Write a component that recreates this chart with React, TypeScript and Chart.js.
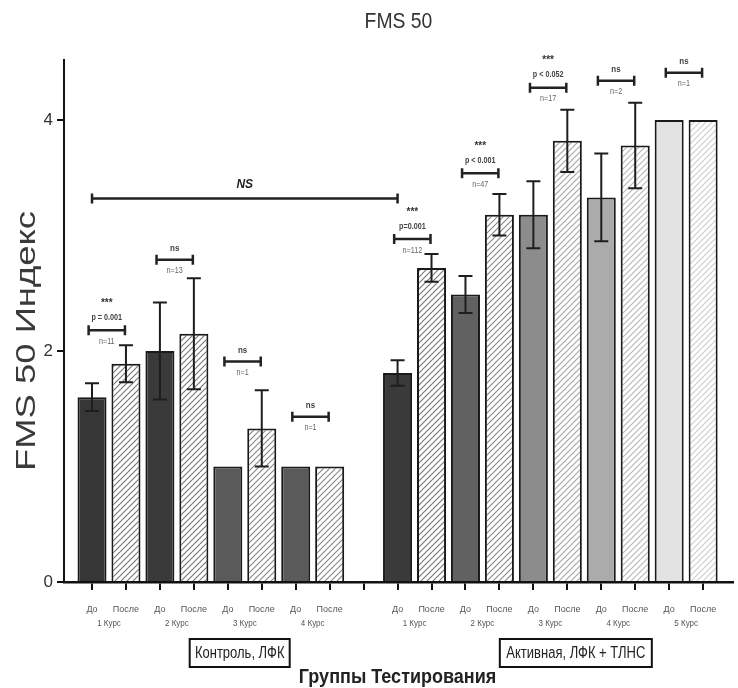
import { useEffect, useRef } from 'react';
import { Chart, registerables } from 'chart.js';

Chart.register(...registerables);

// ---- data ----
const controlCourses = ['1 Курс', '2 Курс', '3 Курс', '4 Курс'];
const activeCourses = ['1 Курс', '2 Курс', '3 Курс', '4 Курс', '5 Курс'];
const beforeLabel = 'До';
const afterLabel = 'После';

const controlBefore = [1.6, 2.0, 1.0, 1.0];
const controlAfter = [1.89, 2.15, 1.33, 1.0];
const controlBeforeErr = [0.12, 0.42, 0, 0];
const controlAfterErr = [0.16, 0.48, 0.33, 0];

const activeBefore = [1.81, 2.49, 3.18, 3.33, 4.0];
const activeAfter = [2.72, 3.18, 3.82, 3.78, 4.0];
const activeBeforeErr = [0.11, 0.16, 0.29, 0.38, 0];
const activeAfterErr = [0.12, 0.18, 0.27, 0.37, 0];

const controlColors = ['#363636', '#3a3a3a', '#5a5a5a', '#5a5a5a'];
const activeColors = ['#3a3a3a', '#616161', '#8c8c8c', '#ababab', '#e3e3e3'];
const controlHatch = ['#7a7a7a', '#7a7a7a', '#8a8a8a', '#8a8a8a'];
const activeHatch = ['#7a7a7a', '#8c8c8c', '#a8a8a8', '#b8b8b8', '#cfcfcf'];

const groupNames = ['Контроль, ЛФК', 'Активная, ЛФК + ТЛНС'];
const chartTitle = 'FMS 50';
const yTitle = 'FMS 50 Индекс';
const xTitle = 'Группы Тестирования';
const yTicks = [0, 2, 4];

const controlSig = [
  { y: 2.18, stars: '***', p: 'p = 0.001', n: 'n=11' },
  { y: 2.79, stars: '', p: 'ns', n: 'n=13' },
  { y: 1.91, stars: '', p: 'ns', n: 'n=1' },
  { y: 1.43, stars: '', p: 'ns', n: 'n=1' },
];
const activeSig = [
  { y: 2.97, stars: '***', p: 'p=0.001', n: 'n=112' },
  { y: 3.54, stars: '***', p: 'p < 0.001', n: 'n=47' },
  { y: 4.28, stars: '***', p: 'p < 0.052', n: 'n=17' },
  { y: 4.34, stars: '', p: 'ns', n: 'n=2' },
  { y: 4.41, stars: '', p: 'ns', n: 'n=1' },
];
const betweenGroups = { y: 3.32, text: 'NS' };

const activeStart = controlCourses.length * 2 + 1;

type Bar = { x: number; y: number; err: number; color: string; hatch: string | null };

function buildBars(): Bar[] {
  const out: Bar[] = [];
  controlCourses.forEach((_, i) => {
    out.push({ x: i * 2, y: controlBefore[i], err: controlBeforeErr[i], color: controlColors[i], hatch: null });
    out.push({ x: i * 2 + 1, y: controlAfter[i], err: controlAfterErr[i], color: controlColors[i], hatch: controlHatch[i] });
  });
  activeCourses.forEach((_, j) => {
    out.push({ x: activeStart + j * 2, y: activeBefore[j], err: activeBeforeErr[j], color: activeColors[j], hatch: null });
    out.push({ x: activeStart + j * 2 + 1, y: activeAfter[j], err: activeAfterErr[j], color: activeColors[j], hatch: activeHatch[j] });
  });
  return out;
}

function hatch(color: string) {
  const s = 6;
  const c = document.createElement('canvas');
  c.width = s;
  c.height = s;
  const g = c.getContext('2d')!;
  g.fillStyle = '#ffffff';
  g.fillRect(0, 0, s, s);
  g.strokeStyle = color;
  g.lineWidth = 1.2;
  g.beginPath();
  g.moveTo(0, s); g.lineTo(s, 0);
  g.moveTo(-s / 2, s / 2); g.lineTo(s / 2, -s / 2);
  g.moveTo(s / 2, s * 1.5); g.lineTo(s * 1.5, s / 2);
  g.stroke();
  return g.createPattern(c, 'repeat')!;
}

const FONT = '"Liberation Sans", Arial, sans-serif';

function text(ctx: CanvasRenderingContext2D, t: string, x: number, y: number, font: string, color: string, sx = 1, sy = 1, rot = 0) {
  ctx.save();
  ctx.translate(x, y);
  if (rot) ctx.rotate(rot);
  ctx.scale(sx, sy);
  ctx.font = font;
  ctx.fillStyle = color;
  ctx.textAlign = 'center';
  ctx.textBaseline = 'middle';
  ctx.fillText(t, 0, 0);
  ctx.restore();
}

export default function App() {
  const ref = useRef<HTMLCanvasElement>(null);
  useEffect(() => {
    if (!ref.current) return;
    const bars = buildBars();
    const bg = bars.map((b) => (b.hatch ? hatch(b.hatch) : b.color));

    const bracket = (ctx: CanvasRenderingContext2D, x1: number, x2: number, y: number) => {
      ctx.save();
      ctx.strokeStyle = '#222';
      ctx.lineWidth = 2.5;
      ctx.beginPath();
      ctx.moveTo(x1, y); ctx.lineTo(x2, y);
      ctx.moveTo(x1, y - 5); ctx.lineTo(x1, y + 5);
      ctx.moveTo(x2, y - 5); ctx.lineTo(x2, y + 5);
      ctx.stroke();
      ctx.restore();
    };

    const overlay = {
      id: 'overlay',
      afterDatasetsDraw(chart: any) {
        const ctx: CanvasRenderingContext2D = chart.ctx;
        const xs = chart.scales.x;
        const ys = chart.scales.y;
        ctx.save();
        ctx.strokeStyle = '#1e1e1e';
        ctx.lineWidth = 2;
        bars.forEach((b) => {
          if (!b.err) return;
          const x = xs.getPixelForValue(b.x);
          const yt = ys.getPixelForValue(b.y + b.err);
          const yb = ys.getPixelForValue(b.y - b.err);
          ctx.beginPath();
          ctx.moveTo(x, yt); ctx.lineTo(x, yb);
          ctx.moveTo(x - 7, yt); ctx.lineTo(x + 7, yt);
          ctx.moveTo(x - 7, yb); ctx.lineTo(x + 7, yb);
          ctx.stroke();
        });
        ctx.restore();

        const drawSig = (s: any, start: number) => {
          const x1 = xs.getPixelForValue(start - 0.1);
          const x2 = xs.getPixelForValue(start + 0.97);
          const y = ys.getPixelForValue(s.y);
          const cx = (x1 + x2) / 2;
          bracket(ctx, x1, x2, y);
          if (s.stars) {
            text(ctx, s.stars, cx, y - 27, `bold 10px ${FONT}`, '#333');
            text(ctx, s.p, cx, y - 13, `bold 8px ${FONT}`, '#444', 0.9, 1.2);
          } else {
            text(ctx, s.p, cx, y - 11, `bold 8px ${FONT}`, '#444', 1, 1.2);
          }
          text(ctx, s.n, cx, y + 11, `8px ${FONT}`, '#666', 0.9, 1.2);
        };
        controlSig.forEach((s, i) => drawSig(s, i * 2));
        activeSig.forEach((s, j) => drawSig(s, activeStart + j * 2));

        const nx1 = xs.getPixelForValue(0);
        const nx2 = xs.getPixelForValue(activeStart);
        const ny = ys.getPixelForValue(betweenGroups.y);
        bracket(ctx, nx1, nx2, ny);
        text(ctx, betweenGroups.text, (nx1 + nx2) / 2, ny - 14, `italic bold 12px ${FONT}`, '#222', 1, 1.1);
      },
      afterDraw(chart: any) {
        const ctx: CanvasRenderingContext2D = chart.ctx;
        const xs = chart.scales.x;
        const bottom = chart.chartArea.bottom;
        const top = chart.chartArea.top;
        const left = chart.chartArea.left;
        const right = chart.chartArea.right;
        text(ctx, chartTitle, (left + right) / 2, 22, `22px ${FONT}`, '#333', 0.88, 1);
        text(ctx, yTitle, 28, (top + bottom) / 2 + 20, `27px ${FONT}`, '#3a3a3a', 1.35, 1, -Math.PI / 2);

        const courseLabel = (start: number, name: string) => {
          text(ctx, beforeLabel, xs.getPixelForValue(start), bottom + 27, `9px ${FONT}`, '#555', 1, 1.1);
          text(ctx, afterLabel, xs.getPixelForValue(start + 1), bottom + 27, `9px ${FONT}`, '#555', 1, 1.1);
          text(ctx, name, xs.getPixelForValue(start + 0.5), bottom + 42, `8px ${FONT}`, '#555', 1, 1.1);
        };
        controlCourses.forEach((c, i) => courseLabel(i * 2, c));
        activeCourses.forEach((c, j) => courseLabel(activeStart + j * 2, c));

        const box = (name: string, cx: number, w: number) => {
          const cy = bottom + 71;
          const h = 28;
          ctx.save();
          ctx.strokeStyle = '#111';
          ctx.lineWidth = 2;
          ctx.strokeRect(cx - w / 2, cy - h / 2, w, h);
          ctx.restore();
          text(ctx, name, cx, cy, `13px ${FONT}`, '#222', 1, 1.3);
        };
        box(groupNames[0], xs.getPixelForValue(4.35), 100);
        box(groupNames[1], xs.getPixelForValue(activeStart + 5.25), 152);

        text(ctx, xTitle, xs.getPixelForValue(9), bottom + 95, `bold 18px ${FONT}`, '#222', 1, 1.15);
      },
    };

    const chart = new Chart(ref.current, {
      type: 'bar',
      data: {
        datasets: [
          {
            data: bars.map((b) => ({ x: b.x, y: b.y })),
            backgroundColor: bg as any,
            borderColor: '#1a1a1a',
            borderWidth: 2,
            barPercentage: 0.855,
            categoryPercentage: 1,
          },
        ],
      },
      options: {
        animation: false,
        responsive: true,
        maintainAspectRatio: false,
        layout: { padding: { left: 8, top: 60, right: 5, bottom: 0 } },
        plugins: { legend: { display: false }, title: { display: false }, tooltip: { enabled: false } },
        scales: {
          x: {
            type: 'linear',
            offset: false,
            min: -0.825,
            max: 18.88,
            afterBuildTicks: (scale: any) => {
              scale.ticks = bars.map((b) => b.x).concat([controlCourses.length * 2]).sort((a, b) => a - b).map((v) => ({ value: v }));
            },
            afterFit: (scale: any) => { scale.height = 106; },
            ticks: { display: false },
            grid: { offset: false, drawOnChartArea: false, drawTicks: true, tickLength: 8, lineWidth: 2, color: '#111' },
            border: { display: true, color: '#111', width: 2.5 },
          },
          y: {
            type: 'linear',
            min: 0,
            max: 4.52,
            afterBuildTicks: (scale: any) => { scale.ticks = yTicks.map((v) => ({ value: v })); },
            afterFit: (scale: any) => { scale.width = 56; },
            ticks: { font: { size: 17, family: FONT }, color: '#333', padding: 4 },
            grid: { drawOnChartArea: false, drawTicks: true, tickLength: 7, lineWidth: 2, color: '#111' },
            border: { display: true, color: '#111', width: 2 },
          },
        },
      },
      plugins: [overlay],
    } as any);
    return () => chart.destroy();
  }, []);

  return (
    <div style={{ position: 'fixed', left: 0, top: 0, width: 738, height: 688, background: '#fff' }}>
      <canvas ref={ref} />
    </div>
  );
}
